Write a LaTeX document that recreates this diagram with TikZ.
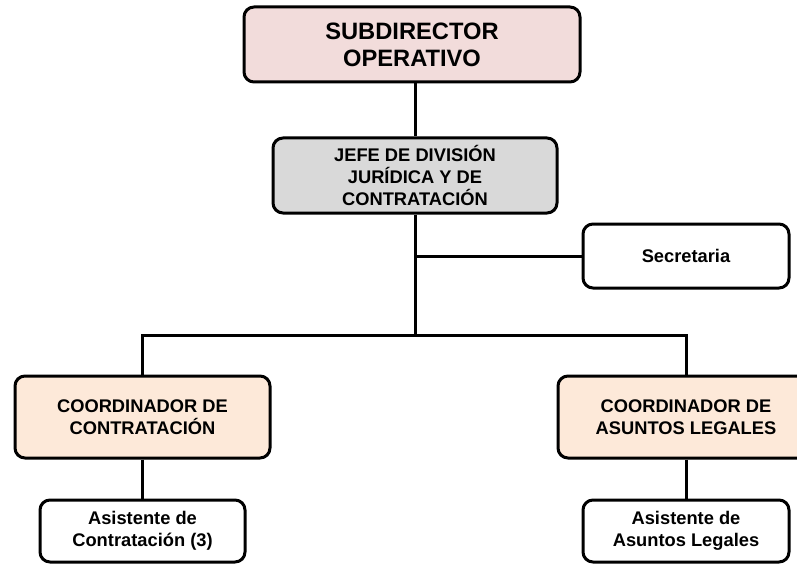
\documentclass[tikz,border=0pt]{standalone}
\usepackage{fontspec}
\setmainfont{Liberation Sans}
\definecolor{toppink}{HTML}{F2DCDB}
\definecolor{jefegray}{HTML}{D9D9D9}
\definecolor{peach}{HTML}{FDE9D9}
\begin{document}
\begin{tikzpicture}[x=1pt,y=-1pt,
  box/.style={draw=black, line width=3pt, rounded corners=10pt, align=center,
    inner sep=0pt, font=\bfseries\fontsize{18.3}{22}\selectfont},
  conn/.style={draw=black, line width=3pt}]
\useasboundingbox (0,0) rectangle (797,564);
\clip (0,0) rectangle (797,564);
\node[box, fill=toppink, minimum width=336pt, minimum height=75pt,
  font=\bfseries\fontsize{23.7}{27}\selectfont] (top) at (412,44.5) {SUBDIRECTOR\\OPERATIVO};
\node[box, fill=jefegray, minimum width=284pt, minimum height=75pt] (jefe) at (415,175.5)
  {JEFE DE DIVISIÓN\\JURÍDICA Y DE\\CONTRATACIÓN};
\node[box, fill=white, minimum width=206pt, minimum height=64pt] (sec) at (686,256) {Secretaria};
\node[box, fill=peach, minimum width=255pt, minimum height=82pt] (coordL) at (142.5,417)
  {COORDINADOR DE\\CONTRATACIÓN};
\node[box, fill=peach, minimum width=256pt, minimum height=82pt] (coordR) at (686,417)
  {COORDINADOR DE\\ASUNTOS LEGALES};
\node[box, fill=white, minimum width=205pt, minimum height=62pt] (asisL) at (142.5,531)
  {Asistente de\\Contratación (3)};
\node[box, fill=white, minimum width=206pt, minimum height=62pt] (asisR) at (686,531)
  {Asistente de\\Asuntos Legales};
\coordinate (bus) at (415,335);
\draw[conn] (jefe.north |- top.south) -- (jefe.north);
\draw[conn] (jefe.south) -- (bus);
\draw[conn] (jefe.south |- sec.west) -- (sec.west);
\draw[conn] (coordL.north) |- (bus) -| (coordR.north);
\draw[conn] (coordL.south) -- (asisL.north);
\draw[conn] (coordR.south) -- (asisR.north);
\end{tikzpicture}
\end{document}
